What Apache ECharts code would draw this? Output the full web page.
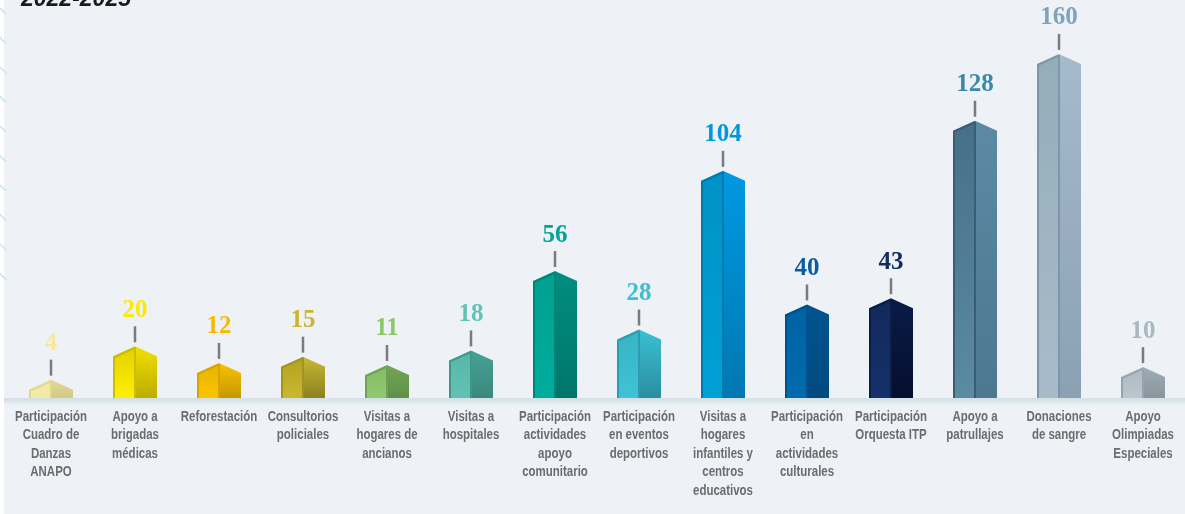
<!DOCTYPE html>
<html>
<head>
<meta charset="utf-8">
<script src="https://cdn.jsdelivr.net/npm/echarts@6/dist/echarts.min.js"></script>
<style>
  html, body { margin: 0; padding: 0; background: #eef2f6; }
  #chart { width: 1185px; height: 514px; }
</style>
</head>
<body>
<div id="chart"></div>
<script>
// Actividades realizadas 2022-2025
const categories = [
  'Participación\nCuadro de\nDanzas\nANAPO',
  'Apoyo a\nbrigadas\nmédicas',
  'Reforestación',
  'Consultorios\npoliciales',
  'Visitas a\nhogares de\nancianos',
  'Visitas a\nhospitales',
  'Participación\nactividades\napoyo\ncomunitario',
  'Participación\nen eventos\ndeportivos',
  'Visitas a\nhogares\ninfantiles y\ncentros\neducativos',
  'Participación\nen\nactividades\nculturales',
  'Participación\nOrquesta ITP',
  'Apoyo a\npatrullajes',
  'Donaciones\nde sangre',
  'Apoyo\nOlimpiadas\nEspeciales'
];
const values = [4, 20, 12, 15, 11, 18, 56, 28, 104, 40, 43, 128, 160, 10];
const titleText = '2022-2025';

// Per-bar palette: [label, leftTop, leftBottom, rightTop, rightBottom, edge]
const palette = [
  ['#f5e99e', '#f2e8a4', '#f4eba8', '#e2d896', '#d3c984', '#e0d68c'],
  ['#fde800', '#e2d000', '#fff000', '#f2e000', '#bcad00', '#cdbc00'],
  ['#f7b900', '#e6b300', '#fdc500', '#f9c200', '#c69800', '#d7a300'],
  ['#c9b62b', '#b3a222', '#c9b82f', '#c8b836', '#8c8020', '#a39320'],
  ['#8cc66a', '#84bd64', '#92c970', '#72a556', '#5f9048', '#6fa253'],
  ['#5fc4b4', '#56b5a7', '#62c2b3', '#47a194', '#3a897e', '#3f978b'],
  ['#00a595', '#00a091', '#00ad9d', '#008e80', '#00766a', '#008477'],
  ['#3bbfd4', '#36b4c4', '#3fc3d6', '#3ac0d3', '#2a8e9f', '#2c9db0'],
  ['#0097de', '#0092c6', '#00a0d4', '#0099e2', '#0078b2', '#0079b0'],
  ['#0a5e9e', '#0062a2', '#006bad', '#00548f', '#004a80', '#00528e'],
  ['#112d62', '#12295c', '#15306a', '#0a1b48', '#050f2e', '#0a1c48'],
  ['#3a88ac', '#466f88', '#5a8ba2', '#5c8aa4', '#4c7890', '#395d74'],
  ['#7ea3bd', '#93adb9', '#a9bbca', '#a6bacd', '#8aa0b3', '#7e96a6'],
  ['#a9b7c1', '#aeb9c1', '#bcc6cd', '#a0acb4', '#8a969e', '#98a4ac']
];

const HALF = 22;   // half bar width (px)
const ROOF = 10;   // height of the pointed top (px)

function grad(top, bottom) {
  return new echarts.graphic.LinearGradient(0, 0, 0, 1, [
    { offset: 0, color: top },
    { offset: 1, color: bottom }
  ]);
}

function renderPrism(params, api) {
  const i = api.value(0);
  const v = api.value(1);
  const top = api.coord([i, v]);
  const base = api.coord([i, 0]);
  const cx = top[0];
  const ys = top[1];
  const yb = base[1];
  const yp = ys - ROOF;
  const c = palette[params.dataIndex];
  return {
    type: 'group',
    children: [
      {
        type: 'polygon',
        shape: { points: [[cx - HALF, yb], [cx - HALF, ys], [cx, yp], [cx, yb]] },
        style: { fill: grad(c[1], c[2]) }
      },
      {
        type: 'polygon',
        shape: { points: [[cx, yb], [cx, yp], [cx + HALF, ys], [cx + HALF, yb]] },
        style: { fill: grad(c[3], c[4]) }
      },
      {
        type: 'polyline',
        shape: { points: [[cx - HALF + 1, yb], [cx - HALF + 1, ys + 1], [cx, yp + 1.5]] },
        style: { stroke: c[5], lineWidth: 2, fill: null }
      },
      {
        type: 'line',
        shape: { x1: cx, y1: yp + 1, x2: cx, y2: yb },
        style: { stroke: c[5], lineWidth: 2 }
      },
      {
        type: 'line',
        shape: { x1: cx, y1: yp - 4, x2: cx, y2: yp - 20 },
        style: { stroke: '#7b7b7b', lineWidth: 2.5 }
      },
      {
        type: 'text',
        style: {
          text: String(v),
          x: cx,
          y: yp - 36,
          align: 'center',
          verticalAlign: 'middle',
          fill: c[0],
          font: "bold 25px 'Liberation Serif', 'DejaVu Serif', serif"
        }
      },
      {
        // category name under the baseline, in a narrowed bold face
        type: 'text',
        x: cx,
        y: yb + 9,
        scaleX: 0.74,
        style: {
          text: categories[params.dataIndex],
          x: 0,
          y: 0,
          align: 'center',
          verticalAlign: 'top',
          lineHeight: 18.6,
          fill: '#6b6c6e',
          font: "bold 15.5px 'Liberation Sans', Arial, sans-serif"
        }
      }
    ]
  };
}

// Decorative diagonal marks on the left border
const marks = [];
for (let k = 0; k < 10; k++) {
  const y = 11 + k * 29.5;
  marks.push({
    type: 'line',
    shape: { x1: 0, y1: y - 3, x2: 6, y2: y + 3 },
    style: { stroke: '#bfe5ee', lineWidth: 1.5 },
    silent: true
  });
}

const chart = echarts.init(document.getElementById('chart'), null, { renderer: 'canvas' });
chart.setOption({
  backgroundColor: '#eef2f6',
  animation: false,
  graphic: [
    { type: 'rect', shape: { x: 0, y: 0, width: 4, height: 514 }, style: { fill: '#ffffff' }, z: 0 },
    ...marks,
    {
      type: 'rect',
      shape: { x: 4, y: 398, width: 1181, height: 7 },
      style: {
        fill: new echarts.graphic.LinearGradient(0, 0, 0, 1, [
          { offset: 0, color: '#d2dee5' },
          { offset: 0.55, color: '#dde6ec' },
          { offset: 1, color: '#eef2f6' }
        ])
      },
      z: 0
    },
    {
      type: 'text',
      style: {
        text: titleText,
        x: 21,
        y: 11,
        align: 'left',
        verticalAlign: 'bottom',
        fill: '#1a1a1a',
        font: "italic bold 23px 'Liberation Sans', 'Open Sans', sans-serif"
      },
      z: 10
    }
  ],
  grid: { left: 9, right: 0, top: 43, bottom: 116 },
  xAxis: {
    type: 'category',
    data: categories,
    axisLine: { show: false },
    axisTick: { show: false },
    axisLabel: { show: false }
  },
  yAxis: {
    type: 'value',
    min: 0,
    max: 170,
    show: false,
    splitLine: { show: false }
  },
  series: [{
    type: 'custom',
    clip: false,
    renderItem: renderPrism,
    encode: { x: 0, y: 1 },
    data: values.map((v, i) => [i, v]),
    z: 5
  }]
});
</script>
</body>
</html>
